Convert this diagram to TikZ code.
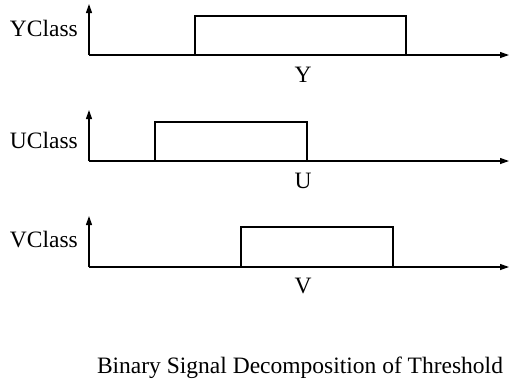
\documentclass[tikz,border=0pt]{standalone}
\usepackage{fontspec}
\setmainfont{Liberation Serif}
\usetikzlibrary{positioning, arrows.meta}

\begin{document}
\begin{tikzpicture}[
    x=1pt, y=-1pt,
    >={Triangle[length=9pt, width=6pt]},
    axis/.style={line width=1.2pt},
    pulse/.style={line width=2.6pt, line join=miter},
    lbl/.style={inner sep=0pt, font=\fontsize{23.5}{28}\selectfont}
]
    \useasboundingbox (0,0) rectangle (509,381);

    % Y
    \coordinate (y0) at (89,55);
    \draw[axis, ->] (y0) -- (89,4);
    \draw[axis, ->] (y0) -- (509,55);
    \draw[pulse] (195,55) |- (406,16) -- (406,55);
    \node[lbl, anchor=base east] (ycls) at (78,36) {YClass};
    \node[lbl, anchor=base] (ylbl) at (303,82) {Y};

    % U
    \coordinate (u0) at (89,161);
    \draw[axis, ->] (u0) -- (89,110);
    \draw[axis, ->] (u0) -- (509,161);
    \draw[pulse] (155,161) |- (307,122) -- (307,161);
    \node[lbl, anchor=base east] (ucls) at (78,148) {UClass};
    \node[lbl, anchor=base] (ulbl) at (303,188) {U};

    % V
    \coordinate (v0) at (89,267);
    \draw[axis, ->] (v0) -- (89,216);
    \draw[axis, ->] (v0) -- (509,267);
    \draw[pulse] (241,267) |- (393,227) -- (393,267);
    \node[lbl, anchor=base east] (vcls) at (78,247) {VClass};
    \node[lbl, anchor=base] (vlbl) at (303,293) {V};

    \node[lbl, anchor=base] (caption) at (300,373) {Binary Signal Decomposition of Threshold};
\end{tikzpicture}
\end{document}
